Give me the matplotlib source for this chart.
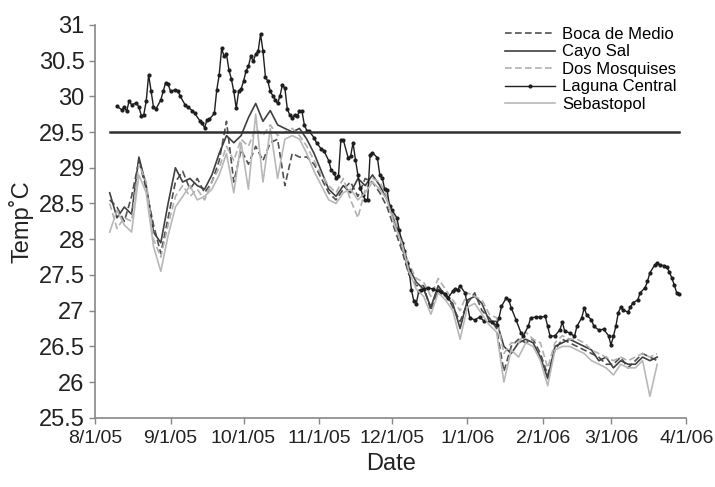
import numpy as np
import matplotlib
matplotlib.use('Agg')
import matplotlib.pyplot as plt

plt.rcParams['font.family'] = ['Liberation Sans Narrow', 'Liberation Sans', 'DejaVu Sans']

start = np.datetime64('2005-08-01')

# day offsets from 8/1/05 for the four loggers read every 3 days
site_days = list(range(6, 232, 3))

cayo_sal = [28.65, 28.30, 28.45, 28.35, 29.15, 28.75, 28.10, 27.95, 28.50, 29.00,
            28.80, 28.85, 28.75, 28.70, 28.90, 29.20, 29.45, 29.35, 29.45, 29.70,
            29.90, 29.65, 29.80, 29.60, 29.55, 29.50, 29.55, 29.40, 29.20, 28.95,
            28.70, 28.60, 28.75, 28.65, 28.85, 28.75, 28.90, 28.75, 28.55, 28.25,
            28.00, 27.60, 27.40, 27.30, 27.05, 27.35, 27.20, 27.10, 26.75, 27.15,
            27.20, 27.10, 26.85, 26.85, 26.50, 26.40, 26.55, 26.60, 26.55, 26.35,
            26.05, 26.50, 26.55, 26.60, 26.55, 26.50, 26.45, 26.30, 26.35, 26.20,
            26.30, 26.25, 26.25, 26.35, 26.30, 26.35]

boca_de_medio = [28.55, 28.45, 28.25, 28.60, 29.10, 28.70, 28.20, 27.80, 28.30, 28.80,
                 28.95, 28.70, 28.85, 28.65, 28.80, 29.10, 29.65, 28.80, 29.25, 29.05,
                 29.30, 29.10, 29.35, 29.40, 28.75, 29.20, 29.15, 29.15, 29.05, 28.85,
                 28.65, 28.55, 28.70, 28.80, 28.60, 28.85, 28.80, 28.65, 28.45, 28.15,
                 27.85, 27.50, 27.35, 27.35, 27.00, 27.30, 27.25, 27.05, 26.85, 27.10,
                 27.25, 27.00, 26.90, 26.75, 26.15, 26.50, 26.60, 26.55, 26.60, 26.40,
                 26.10, 26.45, 26.60, 26.55, 26.50, 26.45, 26.40, 26.35, 26.25, 26.25,
                 26.35, 26.20, 26.30, 26.40, 26.35, 26.30]

dos_mosquises = [28.50, 28.15, 28.30, 28.25, 29.05, 28.80, 28.00, 27.75, 28.20, 28.60,
                 28.75, 28.60, 28.70, 28.55, 28.80, 29.00, 29.30, 29.10, 29.40, 29.30,
                 29.55, 29.45, 29.60, 29.45, 29.50, 29.55, 29.45, 29.30, 29.10, 28.90,
                 28.75, 28.65, 28.85, 28.55, 28.30, 28.70, 28.85, 28.80, 28.60, 28.30,
                 27.95, 27.65, 27.45, 27.40, 27.20, 27.45, 27.30, 27.15, 27.00, 27.25,
                 27.20, 27.15, 26.95, 26.90, 26.40, 26.55, 26.55, 26.70, 26.60, 26.55,
                 26.20, 26.55, 26.65, 26.60, 26.60, 26.55, 26.45, 26.40, 26.35, 26.30,
                 26.35, 26.30, 26.35, 26.40, 26.35, 26.40]

sebastopol = [28.10, 28.40, 28.20, 28.10, 28.90, 28.65, 27.90, 27.55, 28.05, 28.45,
              28.60, 28.75, 28.55, 28.60, 28.70, 28.90, 29.20, 28.65, 29.35, 28.70,
              29.75, 28.80, 29.55, 28.85, 29.40, 29.45, 29.40, 29.20, 28.95, 28.75,
              28.55, 28.50, 28.65, 28.70, 28.55, 28.65, 28.80, 28.70, 28.55, 28.20,
              27.95, 27.55, 27.30, 27.20, 26.95, 27.25, 27.15, 27.00, 26.60, 27.05,
              27.10, 26.95, 26.80, 26.70, 26.00, 26.45, 26.35, 26.55, 26.50, 26.30,
              25.95, 26.45, 26.50, 26.50, 26.45, 26.40, 26.30, 26.25, 26.20, 26.10,
              26.25, 26.20, 26.20, 26.30, 25.80, 26.25]

# Laguna Central, daily logger (day offset, temp)
laguna_days = [9, 11, 12, 13, 14, 15, 17, 18, 19, 20, 21, 22, 23, 24, 25, 27, 28, 29, 30, 31,
               33, 34, 35, 37, 38, 40, 41, 43, 44, 45, 46, 47, 49, 50, 51, 52, 53, 54, 55, 56,
               57, 58, 59, 60, 61, 62, 63, 64, 65, 66, 67, 68, 69, 70, 71, 72, 73, 74, 75, 76,
               77, 78, 79, 80, 81, 82, 83, 84, 85, 86, 87, 88, 90, 91, 93, 94, 96, 97, 98, 99,
               100, 101, 102, 104, 105, 106, 107, 108, 109, 110, 111, 112, 113, 114, 116, 117, 118, 119, 120, 121,
               122, 124, 125, 126, 127, 128, 129, 130, 131, 132, 133, 134, 135, 137, 139, 141, 142, 144, 145, 147,
               148, 149, 150, 152, 154, 156, 158, 160, 163, 165, 166, 167, 169, 170, 171, 173, 175, 176, 178, 179,
               181, 183, 185, 186, 187, 189, 191, 192, 193, 195, 197, 198, 200, 201, 202, 204, 205, 207, 209, 211,
               212, 213, 214, 215, 216, 217, 219, 220, 221, 223, 224, 226, 227, 228, 230, 231, 232, 234, 235, 236,
               237, 238, 239, 240]
laguna_central = [29.86, 29.81, 29.85, 29.79, 29.94, 29.88, 29.91, 29.85, 29.73, 29.74,
                  29.93, 30.30, 30.07, 29.85, 29.82, 29.95, 30.07, 30.19, 30.17, 30.07,
                  30.09, 30.08, 30.00, 29.88, 29.85, 29.80, 29.76, 29.66, 29.62, 29.56,
                  29.67, 29.68, 29.76, 30.09, 30.30, 30.67, 30.56, 30.59, 30.37, 30.24,
                  30.07, 29.83, 30.07, 30.10, 30.21, 30.35, 30.42, 30.56, 30.49, 30.59,
                  30.63, 30.87, 30.63, 30.27, 30.21, 30.07, 30.01, 29.95, 29.90, 30.01,
                  30.16, 30.11, 29.82, 29.74, 29.70, 29.74, 29.72, 29.79, 29.79, 29.60,
                  29.52, 29.51, 29.42, 29.35, 29.26, 29.24, 29.10, 28.97, 28.93, 28.86,
                  28.88, 29.39, 29.39, 29.14, 29.16, 29.35, 29.11, 28.90, 28.72, 28.62,
                  28.55, 28.55, 29.18, 29.21, 29.14, 28.90, 28.86, 28.70, 28.69, 28.46,
                  28.41, 28.30, 28.13, 27.95, 27.83, 27.67, 27.57, 27.29, 27.13, 27.10,
                  27.27, 27.29, 27.30, 27.32, 27.30, 27.27, 27.26, 27.24, 27.18, 27.27,
                  27.30, 27.29, 27.35, 27.25, 26.90, 26.87, 26.91, 26.85, 26.84, 26.80,
                  26.90, 27.06, 27.18, 27.15, 27.04, 26.87, 26.69, 26.65, 26.78, 26.90,
                  26.91, 26.91, 26.92, 26.78, 26.64, 26.65, 26.73, 26.84, 26.71, 26.69,
                  26.64, 26.78, 26.90, 27.04, 26.94, 26.87, 26.78, 26.73, 26.74, 26.65,
                  26.52, 26.64, 26.78, 26.97, 27.05, 27.01, 26.98, 27.05, 27.11, 27.15,
                  27.25, 27.32, 27.41, 27.53, 27.64, 27.67, 27.64, 27.63, 27.61, 27.54,
                  27.46, 27.36, 27.25, 27.24]

threshold = 29.5
threshold_days = [6, 240]

tick_labels = ['8/1/05', '9/1/05', '10/1/05', '11/1/05', '12/1/05',
               '1/1/06', '2/1/06', '3/1/06', '4/1/06']
tick_dates = [np.datetime64(d) for d in ['2005-08-01', '2005-09-01', '2005-10-01', '2005-11-01',
                                         '2005-12-01', '2006-01-01', '2006-02-01', '2006-03-01',
                                         '2006-04-01']]

site_dates = start + np.array(site_days).astype('timedelta64[D]')
laguna_dates = start + np.array(laguna_days).astype('timedelta64[D]')
thr_dates = start + np.array(threshold_days).astype('timedelta64[D]')

fig = plt.figure(figsize=(7.15, 4.87), dpi=100)
ax = fig.add_axes([0.133, 0.142, 0.827, 0.807])

ax.plot(site_dates, boca_de_medio, color='#505050', lw=1.2, ls=(0, (4, 2)), label='Boca de Medio')
ax.plot(site_dates, cayo_sal, color='#404040', lw=1.2, label='Cayo Sal')
ax.plot(site_dates, dos_mosquises, color='#b0b0b0', lw=1.2, ls=(0, (4, 2)), label='Dos Mosquises')
ax.plot(laguna_dates, laguna_central, color='#1e1e1e', lw=1.0, marker='o', ms=2.0,
        label='Laguna Central')
ax.plot(site_dates, sebastopol, color='#b8b8b8', lw=1.2, label='Sebastopol')
ax.plot(thr_dates, [threshold, threshold], color='#303030', lw=1.8)

ax.set_xlim(tick_dates[0], tick_dates[-1])
ax.set_ylim(25.5, 31)
ax.set_xticks(tick_dates)
ax.set_xticklabels(tick_labels)
ax.set_yticks(np.arange(25.5, 31.01, 0.5))
ax.set_yticklabels(['25.5', '26', '26.5', '27', '27.5', '28', '28.5', '29', '29.5', '30', '30.5', '31'])

for s in ['top', 'right']:
    ax.spines[s].set_visible(False)
for s in ['left', 'bottom']:
    ax.spines[s].set_color('#888888')
    ax.spines[s].set_linewidth(1.2)
ax.tick_params(axis='both', colors='#888888', labelcolor='#222222', length=4, width=1)
ax.tick_params(axis='y', labelsize=17)
ax.tick_params(axis='x', labelsize=14, pad=5)

ax.set_xlabel('Date', fontsize=17, color='#222222', labelpad=4)
ax.set_ylabel('Temp˚C', fontsize=17, color='#222222', labelpad=4)

leg = ax.legend(loc='upper right', bbox_to_anchor=(1.0, 1.02), frameon=False, fontsize=12,
                handlelength=3.0, handletextpad=0.4, labelspacing=0.15, borderaxespad=0.2)

fig.savefig('out.png', dpi=100)
